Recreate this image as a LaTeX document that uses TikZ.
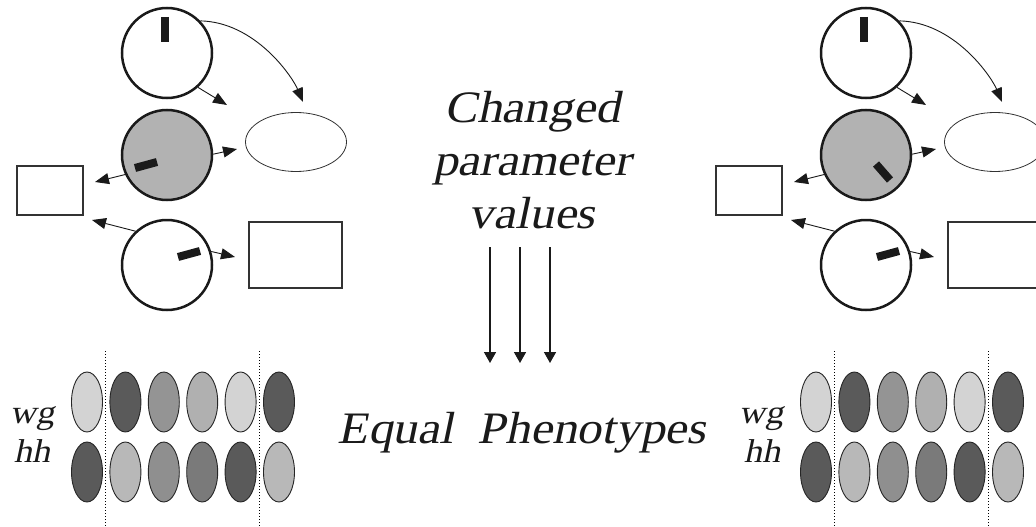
\documentclass[tikz,border=0pt]{standalone}
\usepackage{fontspec}
\newfontfamily\tmsit{Liberation Serif}[FakeSlant=0.21,FakeStretch=1.1]
\usetikzlibrary{arrows.meta,shapes.geometric}
\newcommand\bigtxt{\fontsize{45}{53}\selectfont\tmsit}
\newcommand\smalltxt{\fontsize{33}{39}\selectfont\tmsit}
\definecolor{ink}{HTML}{1A1A1A}
\definecolor{gA}{HTML}{D3D3D3}
\definecolor{gB}{HTML}{5A5A5A}
\definecolor{gC}{HTML}{949494}
\definecolor{gD}{HTML}{B0B0B0}
\definecolor{gE}{HTML}{B8B8B8}
\definecolor{gF}{HTML}{8F8F8F}
\definecolor{gG}{HTML}{7A7A7A}
\newcommand\genepanel[5]{%
\begin{scope}[xshift=#2pt]
  \node[gene] (#1c1) at (167,53) {};
  \node[gene,fill=black!30] (#1c2) at (167,155) {};
  \node[gene] (#1c3) at (167,265) {};
  \node[prod,minimum width=66pt,minimum height=49pt] (#1r1) at (50,190.5) {};
  \node[prod,ellipse,line width=0.8pt,minimum width=101pt,minimum height=59pt] (#1el) at (296,142) {};
  \node[prod,minimum width=93pt,minimum height=66pt] (#1r2) at (295.5,255) {};
  \draw[knob] (165,17) -- (165,42);
  \draw[knob] #3 -- #4;
  \draw[knob] #5;
  \coordinate (#1e1) at (227,105);
  \coordinate (#1e2) at (303,102);
  \coordinate (#1e3) at (237,149);
  \coordinate (#1e4) at (95,182);
  \coordinate (#1e5) at (92,220);
  \coordinate (#1e6) at (235,257);
  \draw[con] (#1c1.-48) -- (#1e1);
  \draw[con] (#1c1.44) .. controls (255,22) and (292,76) .. (#1e2);
  \draw[con] (#1c2.1) -- (#1e3);
  \draw[con] (#1c2.-155) -- (#1e4);
  \draw[con] (#1c3.133) -- (#1e5);
  \draw[con] (#1c3.17) -- (#1e6);
\end{scope}}
\newcommand\cellrows[2]{%
\begin{scope}[xshift=#2pt]
  \foreach \c [count=\i from 0] in {gA,gB,gC,gD,gA,gB}
    \node[cell,fill=\c] (#1w\i) at (87+38.4*\i,402) {};
  \foreach \c [count=\i from 0] in {gB,gE,gF,gG,gB,gE}
    \node[cell,fill=\c] (#1h\i) at (87+38.4*\i,472) {};
  \draw[sep] (105,351) -- (105,527);
  \draw[sep] (259,351) -- (259,527);
\end{scope}}
\begin{document}
\begin{tikzpicture}[x=1pt,y=-1pt,
  gene/.style={circle,draw=ink,line width=2.5pt,minimum size=90pt,inner sep=0pt},
  knob/.style={line width=8pt,draw=ink},
  prod/.style={draw=black!80,line width=1.2pt,inner sep=0pt},
  con/.style={-{Triangle[length=14pt,width=11pt]},line width=0.9pt,draw=ink},
  down/.style={-{Triangle[length=11pt,width=12pt]},line width=1.5pt,draw=ink},
  cell/.style={ellipse,draw=black!85,line width=0.9pt,minimum width=31pt,minimum height=60pt,inner sep=0pt},
  sep/.style={line width=1pt,dash pattern=on 1pt off 2pt,draw=black},
  lab/.style={anchor=base,inner sep=0pt,text=ink}]
\clip (0,0) rectangle (1036,527);
\fill[white] (0,0) rectangle (1036,527);
\genepanel{L}{0}{(135,168)}{(157,162)}{(178,257) -- (200,251)}
\genepanel{R}{699}{(177,164)}{(191,180)}{(178,257) -- (200,251)}
\cellrows{L}{0}
\cellrows{R}{729}
\node[lab,font=\bigtxt] (t1) at (532,122) {Changed};
\node[lab,font=\bigtxt] (t2) at (532,175) {parameter};
\node[lab,font=\bigtxt] (t3) at (532,228) {values};
\node[lab,font=\bigtxt] (eq) at (522,443) {Equal\hspace{12pt} Phenotypes};
\node[lab,font=\smalltxt] (Lwg) at (32,423) {wg};
\node[lab,font=\smalltxt] (Lhh) at (32,462) {hh};
\node[lab,font=\smalltxt] (Rwg) at (761,423) {wg};
\node[lab,font=\smalltxt] (Rhh) at (762,462) {hh};
\coordinate (s1) at (490,247); \coordinate (f1) at (490,363);
\coordinate (s2) at (520,247); \coordinate (f2) at (520,363);
\coordinate (s3) at (550,247); \coordinate (f3) at (550,363);
\draw[down] (s1) -- (f1);
\draw[down] (s2) -- (f2);
\draw[down] (s3) -- (f3);
\end{tikzpicture}
\end{document}
